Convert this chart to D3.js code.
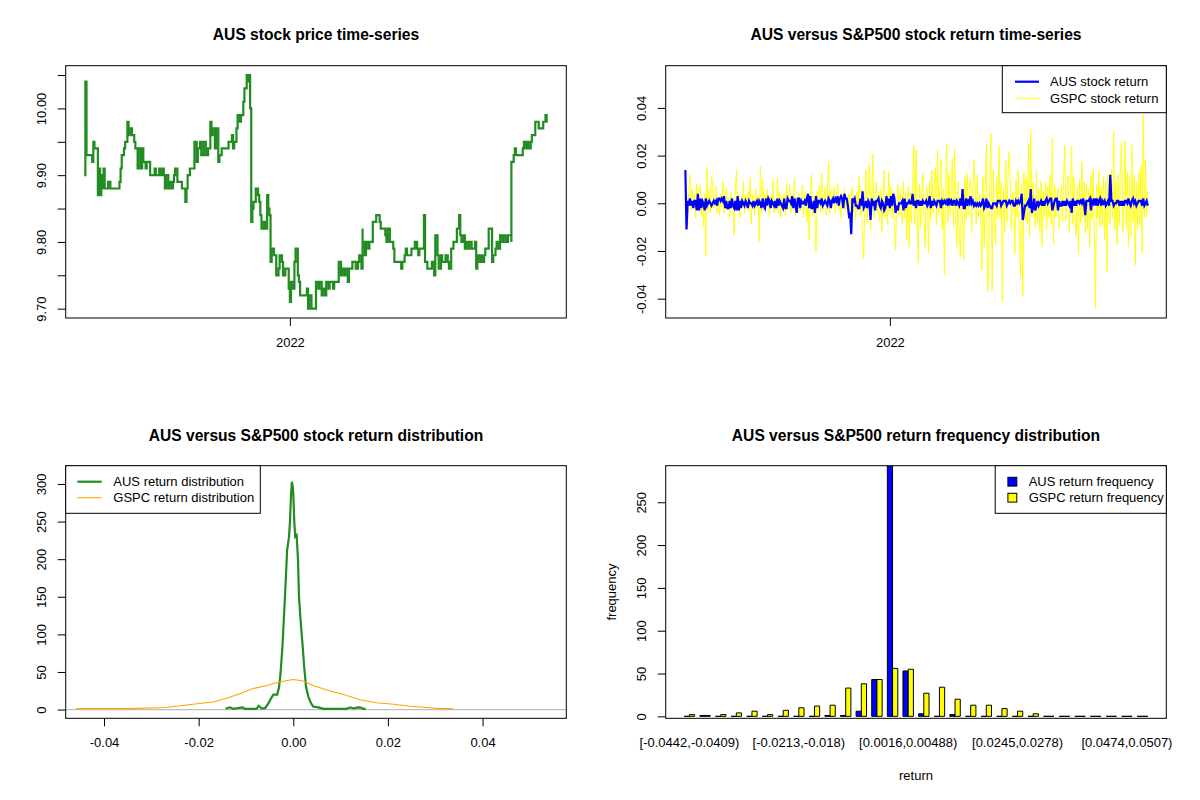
<!DOCTYPE html>
<html><head><meta charset="utf-8">
<script src="https://cdn.jsdelivr.net/npm/d3@7"></script>
<style>
body{margin:0;background:#fff;}
svg{display:block;font-family:"Liberation Sans",Arial,Helvetica,sans-serif;}
</style></head><body>
<svg id="c" width="1200" height="800"></svg>
<script>
// ---------------- DATA ----------------
// AUS price: [trading day index, price]
const priceSeries = [[0,9.90],[1,10.04],[2,9.93],[6,9.93],[7,9.92],[8,9.95],[9,9.94],[11,9.94],[12,9.87],[13,9.91],[14,9.87],[15,9.90],[16,9.88],[17,9.91],[18,9.88],[20,9.88],[21,9.89],[23,9.88],[30,9.88],[31,9.89],[32,9.91],[33,9.93],[35,9.94],[36,9.95],[38,9.98],[39,9.96],[40,9.97],[42,9.96],[44,9.95],[45,9.94],[47,9.91],[48,9.94],[50,9.91],[51,9.94],[52,9.92],[54,9.91],[55,9.92],[57,9.92],[58,9.90],[61,9.90],[62,9.91],[63,9.90],[65,9.90],[66,9.91],[67,9.90],[69,9.91],[70,9.90],[71,9.88],[72,9.90],[74,9.88],[75,9.89],[77,9.88],[78,9.89],[79,9.90],[80,9.91],[82,9.89],[84,9.89],[86,9.88],[89,9.86],[90,9.88],[91,9.90],[93,9.91],[96,9.91],[97,9.95],[99,9.92],[100,9.94],[102,9.95],[103,9.93],[105,9.95],[107,9.93],[109,9.94],[111,9.98],[112,9.96],[113,9.97],[115,9.94],[116,9.97],[118,9.92],[119,9.93],[121,9.94],[124,9.94],[127,9.95],[128,9.95],[130,9.96],[131,9.94],[132,9.95],[134,9.97],[135,9.99],[137,9.98],[138,9.99],[140,10.01],[141,10.03],[143,10.05],[144,10.04],[145,10.05],[146,10.00],[147,9.96],[147,9.83],[148,9.85],[149,9.86],[151,9.88],[153,9.87],[154,9.86],[155,9.84],[156,9.82],[158,9.83],[159,9.82],[161,9.87],[162,9.85],[163,9.84],[164,9.77],[165,9.79],[167,9.78],[169,9.75],[171,9.76],[172,9.78],[174,9.77],[175,9.75],[177,9.76],[179,9.76],[180,9.73],[181,9.71],[182,9.74],[184,9.73],[185,9.77],[186,9.79],[188,9.75],[189,9.74],[190,9.72],[192,9.72],[195,9.72],[196,9.73],[197,9.70],[198,9.72],[200,9.70],[202,9.70],[204,9.74],[206,9.73],[207,9.74],[209,9.72],[210,9.73],[212,9.72],[213,9.74],[215,9.73],[216,9.74],[219,9.73],[220,9.74],[223,9.74],[224,9.77],[226,9.75],[227,9.76],[229,9.75],[230,9.76],[232,9.74],[233,9.76],[235,9.76],[236,9.77],[238,9.77],[239,9.76],[241,9.77],[242,9.78],[244,9.76],[245,9.82],[245,9.80],[247,9.78],[248,9.80],[250,9.79],[251,9.80],[253,9.80],[254,9.83],[256,9.83],[257,9.84],[258,9.84],[260,9.83],[261,9.82],[263,9.82],[265,9.81],[266,9.80],[267,9.82],[269,9.80],[270,9.80],[272,9.79],[273,9.77],[276,9.77],[279,9.77],[279,9.76],[280,9.77],[282,9.78],[283,9.79],[284,9.78],[287,9.78],[288,9.79],[290,9.79],[291,9.80],[293,9.79],[294,9.78],[295,9.79],[299,9.84],[300,9.77],[302,9.76],[305,9.76],[306,9.77],[308,9.75],[309,9.81],[311,9.78],[312,9.76],[314,9.78],[315,9.77],[317,9.77],[318,9.78],[320,9.77],[321,9.76],[323,9.79],[324,9.79],[325,9.80],[327,9.80],[328,9.82],[330,9.84],[331,9.81],[332,9.80],[334,9.81],[335,9.79],[336,9.80],[338,9.79],[339,9.80],[341,9.79],[343,9.79],[344,9.80],[345,9.76],[346,9.78],[348,9.77],[349,9.78],[350,9.77],[352,9.78],[353,9.79],[355,9.79],[356,9.80],[356,9.82],[358,9.82],[359,9.77],[360,9.78],[361,9.78],[362,9.79],[363,9.80],[364,9.79],[366,9.81],[368,9.80],[369,9.81],[371,9.80],[372,9.80],[373,9.81],[376,9.80],[376,9.92],[378,9.93],[379,9.94],[380,9.93],[384,9.93],[386,9.94],[387,9.95],[389,9.94],[390,9.95],[391,9.94],[393,9.95],[394,9.96],[396,9.96],[397,9.98],[399,9.98],[400,9.97],[403,9.97],[404,9.98],[406,9.99],[407,9.98],[408,9.98]];
const priceTicks = [9.70,9.75,9.80,9.85,9.90,9.95,10.00,10.05];
const priceTickLabels = ["9.70","","9.80","","9.90","","10.00",""];
const timeTickDay = [181];
const timeTickLabels = ["2022"];

// daily returns, trading days 1..408
const ausReturn = [
0.014,-0.011,0.001,-0.001,0.002,-0.001,0.001,-0.002,0.001,0.001,
-0.003,0.004,-0.003,0.002,-0.002,0.001,0,-0.003,0.002,-0.001,
0,0.001,0,-0.001,0,0.001,0,0.001,-0.001,0.002,
0.002,0.001,0.002,0.001,0.003,-0.002,0.001,-0.002,-0.002,0.001,
-0.002,0.002,-0.001,-0.002,0.001,-0.003,0.003,-0.003,0.001,-0.002,
0.001,0,-0.001,0.001,0,-0.002,0.001,0,0,-0.001,
0.001,-0.001,0,0.001,-0.001,0.001,0,-0.002,0.002,-0.001,
-0.002,0.002,-0.001,0.002,0.001,-0.002,0.001,0,-0.001,0.001,
-0.002,0.002,-0.001,0.001,0,-0.001,-0.002,0.002,-0.002,-0.002,
0.002,0.001,0.001,0,0.003,-0.002,0.002,-0.001,-0.004,0.002,
0.002,-0.002,0.001,0,0,0.001,-0.001,0.002,0.004,-0.002,
0.003,-0.002,-0.002,0.001,-0.004,0.003,-0.002,0.001,0.001,0,
0.002,-0.001,0,0.001,0,-0.001,0.002,0.001,-0.002,0.001,
0.002,0,0.002,0.001,0.003,-0.001,0.002,0.003,0.002,-0.002,
0.004,0.002,0.002,-0.001,-0.005,-0.004,-0.013,0.002,0.001,0.002,
-0.001,-0.001,-0.002,-0.002,0.002,-0.001,0.005,-0.002,-0.001,0.001,
-0.002,0.001,0,-0.007,0.002,-0.001,0.001,-0.003,0.001,0.001,
0.002,-0.001,-0.002,0.001,0,-0.003,-0.002,0.003,-0.001,0.002,
-0.002,0.003,-0.001,0.004,0.002,-0.004,-0.001,-0.003,0,0,
0,0.001,-0.003,0.002,-0.002,0,0,0.001,0,0,
0.004,-0.001,0.001,-0.002,0.001,0.001,-0.001,0.001,-0.001,0.001,
0,0,0.001,-0.001,0,0.003,-0.002,0.001,-0.001,0.001,
0,-0.001,0.001,0.001,0.001,-0.002,0.001,0,0.001,0,
0.001,-0.001,0.002,0,0.001,-0.001,0.001,0.001,-0.001,0.001,
0,-0.001,0.002,-0.001,0.006,-0.002,-0.002,0.002,-0.001,0.001,
0,0.003,0,0.001,-0.001,0,-0.001,0,-0.001,0,
-0.001,0,0.002,-0.002,-0.001,0.002,-0.002,0,-0.001,-0.002,
-0.002,0,0,0,-0.001,0.001,0.001,0.001,-0.001,0,
0.001,0.001,0.001,-0.001,0,0.001,0,0.001,0.001,-0.001,
-0.001,0.001,0,0.001,0,0.001,0.004,-0.007,-0.004,-0.001,
-0.001,0,0.001,-0.002,0.006,-0.004,-0.002,0.002,-0.003,-0.001,
0.001,-0.001,0,0.001,-0.001,0.001,-0.001,0.001,0.002,0,
0.001,0.002,0.002,-0.003,-0.001,0.001,0.002,0.002,-0.003,0.001,
-0.001,-0.001,0.001,-0.001,0.001,-0.001,0.001,0,-0.001,0.001,
-0.004,0.002,-0.001,0.001,-0.001,0.001,0.001,0,0.001,0,
0.002,0,-0.005,0.001,0.001,0.001,0.002,-0.003,0.001,0,
0.002,-0.001,0.002,-0.001,0.001,0.002,-0.001,0.001,0,0.001,
-0.001,0,0.001,-0.001,0.012,0.001,0.001,-0.001,0,0,
0.001,0.001,-0.001,0.001,-0.001,0.001,-0.001,0.001,0.001,0,
0.002,0,-0.001,0.001,0.002,0,0.001,-0.001,0,0.001,
0.001,0.001,-0.001,0.002,-0.001,0,0.001,-0.001];
const gspcReturn = [
0.002,-0.004,-0.0105,0.005,0.012,-0.003,0.006,-0.002,0.004,-0.006,
0.0084,-0.001,0.003,0.0077,-0.005,0.002,-0.0098,0.004,-0.022,0.015,
-0.003,0.006,-0.004,0.011,0.0105,-0.002,0.003,0.007,-0.004,0.002,
-0.005,0.004,-0.002,0.009,-0.0042,0.003,0.006,-0.003,0.002,-0.006,
0.005,0.001,-0.004,-0.0133,0.006,0.014,-0.003,0.004,-0.006,0.002,
-0.002,0.009,-0.004,0.003,-0.001,0.005,-0.003,0.011,-0.009,0.004,
0.002,-0.005,0.006,-0.002,0.003,-0.016,0.0154,-0.004,0.0098,-0.003,
0.004,-0.002,0.006,0.001,-0.0056,0.003,-0.002,0.0098,-0.004,0.002,
-0.003,0.0105,-0.004,0.005,-0.006,0.003,-0.001,0.004,-0.005,0.0084,
-0.003,0.002,0.0077,-0.004,0.003,-0.002,0.0105,-0.005,0.002,-0.0042,
0.004,-0.003,0.001,0.0077,-0.006,0.002,0.005,-0.008,0.003,-0.0154,
0.004,0.012,-0.005,0.003,-0.006,-0.0207,0.005,-0.002,0.0077,-0.004,
0.0126,-0.003,0.002,0.007,-0.005,0.003,0.0175,-0.004,0.0056,-0.002,
0.003,0.007,-0.004,0.002,0.0084,-0.003,0.001,-0.006,0.004,-0.002,
0.0063,-0.003,0.002,-0.005,0.004,-0.001,0.003,0.007,-0.004,0.002,
-0.007,0.005,-0.003,0.0112,-0.005,0.006,-0.0168,-0.0231,0.004,0.014,
-0.008,0.006,0.0168,-0.0112,0.004,0.0207,-0.006,0.003,0.009,-0.004,
0.005,-0.0077,0.006,-0.0119,0.003,0.014,-0.006,0.004,-0.009,0.0133,
-0.004,0.007,-0.0063,0.005,-0.01,-0.0196,0,0.008,-0.005,0.006,
-0.002,-0.0084,0.009,-0.006,0.004,-0.0154,0.007,-0.0182,0.005,-0.008,
0.006,0.0241,-0.009,0.0224,-0.004,-0.0249,0.008,-0.01,0.005,0.0126,
-0.006,-0.0182,0.007,0.004,-0.021,0.009,-0.007,0.014,-0.004,0.006,
0.0147,-0.009,0.0224,-0.005,0.008,0.0182,-0.011,0.006,-0.0301,0.004,
0.0252,-0.008,0.0126,-0.005,0.007,0.0189,-0.01,0.0231,-0.006,-0.0182,
0.009,-0.012,-0.0224,0.006,-0.009,-0.0238,0.011,-0.007,0.0126,-0.005,
0.008,0.0105,-0.012,0.006,0.0182,0.007,-0.009,0.012,-0.006,0.004,
-0.007,-0.028,0.011,-0.0182,0.008,0.0245,-0.0371,-0.0273,0.012,0.0294,
-0.0364,0.014,-0.009,-0.0175,0.011,-0.006,0.0238,-0.0056,0.009,-0.0413,
0.006,-0.012,0.0182,-0.008,0.012,0.0217,0.0091,-0.011,0.005,0.0007,
-0.021,0.01,-0.006,0.014,-0.012,-0.0308,0.008,-0.0392,0.013,-0.007,
0.011,-0.009,0.0252,-0.014,0.0301,-0.006,0.009,-0.0028,-0.01,0.014,
-0.008,0.006,-0.012,0.009,-0.0182,0.005,-0.006,0.0091,-0.011,0.007,
-0.0056,0.012,-0.009,0.0273,-0.0175,0.008,-0.006,0.0021,0.006,-0.01,
-0.0021,0.0077,-0.008,0.012,0.0245,-0.007,0.009,0.0119,-0.012,0.006,
0.0238,-0.009,0.011,-0.0063,-0.014,0.007,-0.021,0.01,-0.008,0.0175,
-0.006,0.009,-0.0126,0.008,-0.011,0.006,-0.0182,0.012,-0.007,0.0147,
-0.012,-0.0441,0.008,-0.006,0.0133,-0.01,0.007,-0.0091,0.011,-0.0154,
0.009,-0.0287,0.012,-0.008,-0.0091,0.014,-0.006,0.0301,-0.011,0.009,
-0.0175,0.012,-0.009,0.016,0.0259,-0.012,-0.0007,0.0259,-0.01,0.013,
-0.0182,0.011,-0.014,0.0245,-0.008,0.012,-0.0259,0.009,-0.011,0.0133,
-0.009,0.016,-0.021,0.0371,-0.006,0.0182,-0.0056,0.0049];
const returnTicks = [-0.04,-0.02,0,0.02,0.04];
const returnTickLabels = ["-0.04","-0.02","0.00","0.02","0.04"];

// kernel density estimates: [return, density]
const ausDensity = [[-0.0143,1],[-0.0134,3],[-0.0127,1],[-0.0107,3],[-0.0102,1],[-0.0078,1],[-0.0073,5],[-0.0067,1.5],[-0.0060,1.5],[-0.0053,8],[-0.0046,16],[-0.0042,20],[-0.0034,20],[-0.0030,30],[-0.0027,48],[-0.0023,83],[-0.0018,145],[-0.0013,212],[-0.0009,230],[-0.0007,250],[-0.0005,283],[-0.0003,303],[-0.0001,296],[0,287],[0.0002,252],[0.0004,230],[0.0007,232],[0.0010,199],[0.0012,150],[0.0016,114],[0.0020,83],[0.0023,57],[0.0027,30],[0.0032,17],[0.0037,9],[0.0042,4],[0.0053,3],[0.0064,1],[0.0071,1],[0.0113,1],[0.0120,3],[0.0127,1.5],[0.0134,2.5],[0.0141,3],[0.0148,1],[0.0153,1]];
const gspcDensity = [[-0.0459,1.3],[-0.0349,1.3],[-0.0268,2.7],[-0.0226,6],[-0.0198,8],[-0.0169,10],[-0.0141,15],[-0.0113,21],[-0.0085,28],[-0.0056,32],[-0.0028,37],[0,40],[0.0021,38],[0.0042,32],[0.0071,26],[0.0106,20],[0.0141,13],[0.0176,9],[0.0212,7],[0.0247,4.4],[0.0282,2.7],[0.031,1.3],[0.0337,1.3]];
const densXTicks = [-0.04,-0.02,0,0.02,0.04];
const densXTickLabels = ["-0.04","-0.02","0.00","0.02","0.04"];
const densYTicks = [0,50,100,150,200,250,300];

// return frequency histogram
const binLabels = ["[-0.0442,-0.0409)","[-0.0409,-0.0377)","[-0.0377,-0.0344)","[-0.0344,-0.0311)","[-0.0311,-0.0278)","[-0.0278,-0.0246)","[-0.0246,-0.0213)","[-0.0213,-0.018)","[-0.018,-0.0148)","[-0.0148,-0.0115)","[-0.0115,-0.00822)","[-0.00822,-0.00495)","[-0.00495,-0.00168)","[-0.00168,0.0016)","[0.0016,0.00488)","[0.00488,0.00815)","[0.00815,0.0114)","[0.0114,0.0147)","[0.0147,0.018)","[0.018,0.0212)","[0.0212,0.0245)","[0.0245,0.0278)","[0.0278,0.0311)","[0.0311,0.0343)","[0.0343,0.0376)","[0.0376,0.0409)","[0.0409,0.0441)","[0.0441,0.0474)","[0.0474,0.0507)","[0.0507,0.0539)"];
const ausFreq  = [0,1,0,0,0,0,0,0,0,1,1,6,43,299,53,3,0,2,0,0,0,0,0,0,0,0,0,0,0,0];
const gspcFreq = [2,1,2,4,6,2,7,10,12,13,33,38,43,56,55,27,34,20,13,13,9,6,3,0,0,0,0,0,0,0];
const freqTicks = [0,50,100,150,200,250];

// ---------------- DRAWING ----------------
const svg = d3.select("#c");
const FS = 13;
const C = {green:"#228B22", blue:"#0000FF", yellow:"#FFFF00", orange:"#FFA500", gray:"#BEBEBE"};
const box = {
  price:{x0:65.7,x1:566.3,y0:65.7,y1:318},
  ret:{x0:665.7,x1:1166.3,y0:65.7,y1:318},
  dens:{x0:65.7,x1:566.3,y0:465.7,y1:718.3},
  hist:{x0:665.7,x1:1166.3,y0:465.7,y1:718.3}
};
function ext(lo,hi){const d=(hi-lo)*0.04;return [lo-d,hi+d];}

function frame(b){
  svg.append("rect").attr("x",b.x0).attr("y",b.y0).attr("width",b.x1-b.x0).attr("height",b.y1-b.y0)
    .attr("fill","none").attr("stroke","#000").attr("stroke-width",1);
}
function title(b,t,y){
  svg.append("text").attr("x",(b.x0+b.x1)/2).attr("y",y).attr("text-anchor","middle")
    .attr("font-weight","bold").attr("font-size",15.6).text(t);
}
function leftAxis(b,y,ticks,labels){
  const g = svg.append("g").attr("transform",`translate(${b.x0},0)`)
    .call(d3.axisLeft(y).tickValues(ticks).tickSize(8).tickSizeOuter(0).tickFormat((d,i)=>labels[i]));
  g.attr("font-family",null).attr("font-size",FS);
  g.select(".domain").remove();
  g.selectAll(".tick line").attr("stroke","#000");
  g.selectAll(".tick text").attr("transform","rotate(-90)").attr("x",0).attr("y",-24)
    .attr("dy","0.35em").attr("text-anchor","middle").attr("fill","#000");
}
function bottomAxis(b,x,ticks,labels){
  const g = svg.append("g").attr("transform",`translate(0,${b.y1})`)
    .call(d3.axisBottom(x).tickValues(ticks).tickSize(8).tickSizeOuter(0).tickFormat((d,i)=>labels[i]));
  g.attr("font-family",null).attr("font-size",FS);
  g.select(".domain").remove();
  g.selectAll(".tick line").attr("stroke","#000");
  g.selectAll(".tick text").attr("y",24.5).attr("dy","0.35em").attr("fill","#000");
}
function clip(id,b){
  svg.append("clipPath").attr("id",id).append("rect")
    .attr("x",b.x0).attr("y",b.y0).attr("width",b.x1-b.x0).attr("height",b.y1-b.y0);
}

// ---- Panel 1: price ----
{
  const b = box.price;
  const x = d3.scaleLinear().domain(ext(0,408)).range([b.x0,b.x1]);
  const y = d3.scaleLinear().domain(ext(9.70,10.05)).range([b.y1,b.y0]);
  clip("cp1",b);
  svg.append("path").datum(priceSeries).attr("clip-path","url(#cp1)")
    .attr("fill","none").attr("stroke",C.green).attr("stroke-width",2.2).attr("stroke-linejoin","miter")
    .attr("d",d3.line().curve(d3.curveStepAfter).x(d=>x(d[0])).y(d=>y(d[1])));
  frame(b);
  leftAxis(b,y,priceTicks,priceTickLabels);
  bottomAxis(b,x,timeTickDay,timeTickLabels);
  title(b,"AUS stock price time-series",39.5);
}

// ---- Panel 2: returns ----
{
  const b = box.ret;
  const x = d3.scaleLinear().domain(ext(0,408)).range([b.x0,b.x1]);
  const y = d3.scaleLinear().domain([-0.0481,0.0577]).range([b.y1,b.y0]);
  clip("cp2",b);
  const line = d3.line().x((d,i)=>x(i+1)).y(d=>y(d));
  svg.append("path").datum(gspcReturn).attr("clip-path","url(#cp2)")
    .attr("fill","none").attr("stroke",C.yellow).attr("stroke-width",0.9).attr("d",line);
  svg.append("path").datum(ausReturn).attr("clip-path","url(#cp2)")
    .attr("fill","none").attr("stroke",C.blue).attr("stroke-width",2.2).attr("d",line);
  frame(b);
  leftAxis(b,y,returnTicks,returnTickLabels);
  bottomAxis(b,x,timeTickDay,timeTickLabels);
  title(b,"AUS versus S&P500 stock return time-series",39.5);
  // legend
  const lg = svg.append("g");
  lg.append("rect").attr("x",1002.3).attr("y",b.y0).attr("width",b.x1-1002.3).attr("height",47)
    .attr("fill","#fff").attr("stroke","#000");
  const items = [["AUS stock return",C.blue,2.2],["GSPC stock return",C.yellow,1]];
  items.forEach((it,i)=>{
    const yy = 81.7 + i*16.6;
    lg.append("line").attr("x1",1015).attr("x2",1039).attr("y1",yy).attr("y2",yy)
      .attr("stroke",it[1]).attr("stroke-width",it[2]);
    lg.append("text").attr("x",1050).attr("y",yy).attr("dy","0.35em").attr("font-size",FS).text(it[0]);
  });
}

// ---- Panel 3: density ----
{
  const b = box.dens;
  const x = d3.scaleLinear().domain([-0.0481,0.0577]).range([b.x0,b.x1]);
  const y = d3.scaleLinear().domain([-11.6,324.3]).range([b.y1,b.y0]);
  clip("cp3",b);
  svg.append("line").attr("x1",b.x0).attr("x2",b.x1).attr("y1",y(0)).attr("y2",y(0))
    .attr("stroke",C.gray).attr("stroke-width",1.2);
  const line = d3.line().x(d=>x(d[0])).y(d=>y(d[1]));
  svg.append("path").datum(ausDensity).attr("clip-path","url(#cp3)")
    .attr("fill","none").attr("stroke",C.green).attr("stroke-width",2.2).attr("d",line);
  svg.append("path").datum(gspcDensity).attr("clip-path","url(#cp3)")
    .attr("fill","none").attr("stroke",C.orange).attr("stroke-width",1.1).attr("d",line);
  frame(b);
  leftAxis(b,y,densYTicks,densYTicks.map(String));
  bottomAxis(b,x,densXTicks,densXTickLabels);
  title(b,"AUS versus S&P500 stock return distribution",440.5);
  const lg = svg.append("g");
  lg.append("rect").attr("x",b.x0).attr("y",b.y0).attr("width",260.3-b.x0).attr("height",47.6)
    .attr("fill","#fff").attr("stroke","#000");
  const items = [["AUS return distribution",C.green,2.2],["GSPC return distribution",C.orange,1.1]];
  items.forEach((it,i)=>{
    const yy = 481.7 + i*16;
    lg.append("line").attr("x1",77.3).attr("x2",101.7).attr("y1",yy).attr("y2",yy)
      .attr("stroke",it[1]).attr("stroke-width",it[2]);
    lg.append("text").attr("x",113.3).attr("y",yy).attr("dy","0.35em").attr("font-size",FS).text(it[0]);
  });
}

// ---- Panel 4: histogram ----
{
  const b = box.hist;
  const n = binLabels.length;
  const x = d3.scaleLinear().domain(ext(1,3*n)).range([b.x0,b.x1]);
  const y = d3.scaleLinear().domain([-2.3,292.7]).range([b.y1,b.y0]);
  clip("cp4",b);
  const bars = [];
  binLabels.forEach((lab,k)=>{
    bars.push({l:1+3*k, v:ausFreq[k], c:C.blue});
    bars.push({l:2+3*k, v:gspcFreq[k], c:C.yellow});
  });
  svg.append("g").attr("clip-path","url(#cp4)").selectAll("path").data(bars).join("path")
    .attr("d",d=>{const x0=x(d.l),x1=x(d.l+1),y0=y(0),y1=y(d.v);
      return `M${x0},${y0}L${x1},${y0}L${x1},${y1}L${x0},${y1}Z`;})
    .attr("fill",d=>d.c).attr("stroke","#000").attr("stroke-width",1);
  frame(b);
  leftAxis(b,y,freqTicks,freqTicks.map(String));
  binLabels.forEach((lab,k)=>{
    if (k % 7 !== 0) return;
    svg.append("text").attr("x",x(2+3*k)).attr("y",b.y1+24.5).attr("dy","0.35em")
      .attr("text-anchor","middle").attr("font-size",FS).text(lab);
  });
  svg.append("text").attr("x",(b.x0+b.x1)/2).attr("y",775).attr("dy","0.35em")
    .attr("text-anchor","middle").attr("font-size",FS).text("return");
  svg.append("text").attr("transform",`translate(611,${(b.y0+b.y1)/2}) rotate(-90)`).attr("dy","0.35em")
    .attr("text-anchor","middle").attr("font-size",FS).text("frequency");
  title(b,"AUS versus S&P500 return frequency distribution",440.5);
  const lg = svg.append("g");
  lg.append("rect").attr("x",995.2).attr("y",b.y0).attr("width",b.x1-995.2).attr("height",47.6)
    .attr("fill","#fff").attr("stroke","#000");
  const items = [["AUS return frequency",C.blue],["GSPC return frequency",C.yellow]];
  items.forEach((it,i)=>{
    const yy = 481.7 + i*16;
    lg.append("rect").attr("x",1007.9).attr("y",yy-4.4).attr("width",8.9).attr("height",8.8)
      .attr("fill",it[1]).attr("stroke","#000");
    lg.append("text").attr("x",1028.7).attr("y",yy).attr("dy","0.35em").attr("font-size",FS).text(it[0]);
  });
}
</script>
</body></html>
